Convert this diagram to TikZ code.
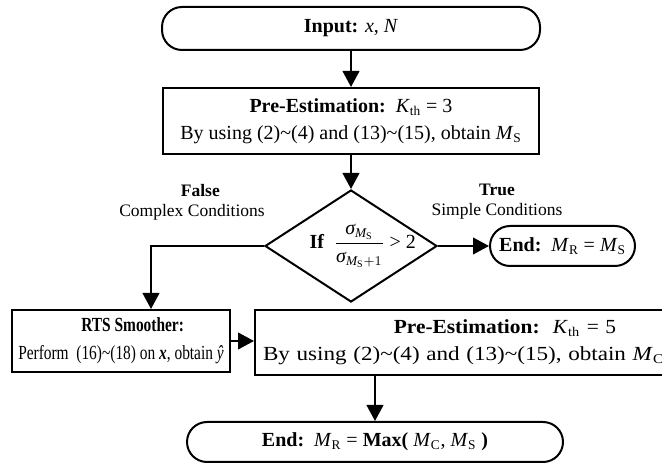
\documentclass[tikz,border=0pt]{standalone}
\usepackage{amsmath}
\usepackage{fontspec}
\setmainfont{Liberation Serif}
\newfontfamily\narrowfont[FakeStretch=0.77]{Liberation Serif}
\newfontfamily\widefont[FakeStretch=1.07]{Liberation Serif}
\newfontfamily\widerfont[FakeStretch=1.155]{Liberation Serif}
\usetikzlibrary{shapes.geometric,arrows.meta}
\newcommand{\tild}{\textasciitilde}

\begin{document}
\begin{tikzpicture}[
   x=0.6pt, y=-0.6pt,
   font=\fontsize{12}{16}\selectfont,
   box/.style={rectangle, draw, line width=1.2pt, align=center, inner sep=0pt},
   term/.style={rectangle, rounded corners=12pt, draw, line width=1.2pt, inner sep=0pt},
   decision/.style={diamond, draw, line width=1.2pt, inner sep=0pt, minimum width=103.2pt, minimum height=67.2pt},
   lbl/.style={align=center, font=\fontsize{10.5}{12}\selectfont},
   arrow/.style={-{Triangle[width=10pt,length=9.6pt]}, line width=1.2pt}
]
\useasboundingbox (0,0) rectangle (662,463);
\clip (0,0) rectangle (662,463);

% Main column
\node[term, minimum width=226.8pt, minimum height=25.8pt] (input) at (351,28.5) {\textbf{Input:} \textit{x}, \textit{N}};
\node[box, minimum width=225.6pt, minimum height=39.6pt] (pre1) at (351,121)
   {\textbf{Pre-Estimation:}\ \ \textit{K}\textsubscript{th} = 3\\
    By using (2)\tild(4) and (13)\tild(15), obtain \textit{M}\textsubscript{S}};
\node[decision] (cond) at (351,246)
   {\makebox[0pt]{\hspace{14pt}\textbf{If}\ \ $\dfrac{\textit{σ}_{\textit{M}_{\text{S}}}}{\textit{σ}_{\textit{M}_{\text{S}}+1}}$ > 2}};
\node[term, minimum width=87pt, minimum height=24pt] (end1) at (562.5,246)
   {\textbf{End:}\ \ \textit{M}\textsubscript{R} = \textit{M}\textsubscript{S}};

% Complex branch
\node[box, minimum width=130.8pt, minimum height=37.2pt, font=\narrowfont\fontsize{12}{17}\selectfont] (rts) at (121,341)
   {\hspace*{14pt}\textbf{RTS Smoother:}\\
    Perform\ \ (16)\tild(18) on \textbf{\textit{x}}, obtain \textit{ŷ}};
\node[box, minimum width=300pt, minimum height=39pt, text width=290.4pt, align=left, inner xsep=4.8pt] (pre2) at (505,342.5)
   {\makebox[290.4pt]{\widefont\fontsize{12}{18}\selectfont\textbf{Pre-Estimation:}\ \ \textit{K}\textsubscript{th} = 5}\\
    {\widerfont\fontsize{12}{18}\selectfont By using (2)\tild(4) and (13)\tild(15), obtain \textit{M}\textsubscript{C}}};
\node[term, minimum width=225.6pt, minimum height=24pt] (end2) at (375,442)
   {\textbf{End:}\ \ \textit{M}\textsubscript{R} = \textbf{Max(} \textit{M}\textsubscript{C}, \textit{M}\textsubscript{S} \textbf{)}};

% Branch labels
\node[lbl] (falselbl) at (192,202) {\hspace*{10pt}\textbf{False}\\Complex Conditions};
\node[lbl] (truelbl) at (497,202) {\textbf{True}\\Simple Conditions};

% Arrows
\draw[arrow] (input) -- (pre1);
\draw[arrow] (pre1) -- (cond);
\draw[arrow] (cond) -- (end1);
\draw[arrow] (cond.west) -| ([xshift=18pt]rts.north);
\draw[arrow] (rts.east) -- (rts.east -| pre2.west);
\draw[arrow] (pre2.south -| end2.north) -- (end2.north);

\end{tikzpicture}
\end{document}
